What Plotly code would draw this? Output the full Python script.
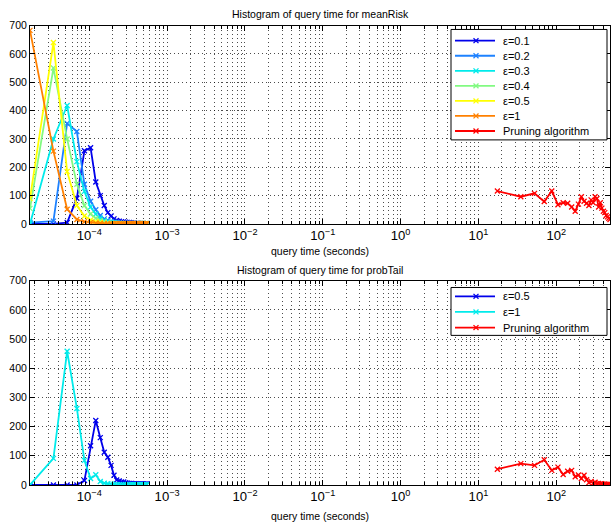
import plotly.graph_objects as go

# ---- data ----
bins_eps = [1.73e-5, 3.46e-5, 5.19e-5, 6.92e-5, 8.65e-5, 1.038e-4, 1.211e-4, 1.384e-4,
            1.557e-4, 1.73e-4, 1.903e-4, 2.076e-4, 2.249e-4, 2.422e-4, 2.595e-4, 2.768e-4,
            2.941e-4, 3.114e-4, 3.287e-4, 3.46e-4, 3.633e-4, 3.806e-4, 3.979e-4, 4.152e-4,
            4.325e-4, 4.498e-4, 4.671e-4, 4.844e-4, 5.017e-4, 5.19e-4, 5.363e-4, 5.536e-4]
bins_prune = [17.5, 35, 52.5, 70, 87.5, 105, 122.5, 140, 157.5, 175, 192.5, 210, 227.5, 245,
              262.5, 280, 297.5, 315, 332.5, 350, 367.5, 385, 402.5, 420, 437.5, 455, 472.5, 490]

mean_eps01 = [0, 0, 5, 91, 258, 269, 148, 100, 65, 40, 28, 18, 12, 10, 8, 7,
              6, 5, 5, 4, 3, 3, 2, 2, 2, 1, 1, 1, 1, 1, 1, 1]
mean_eps02 = [5, 10, 355, 326, 140, 80, 50, 30, 18, 12, 8, 6, 5, 4, 3, 3,
              2, 2, 2, 2, 1, 1, 1, 1, 1, 1, 1, 1, 1, 1, 1, 1]
mean_eps03 = [0, 300, 418, 220, 115, 60, 35, 20, 12, 8, 6, 4, 2, 2, 2, 1,
              1, 1, 1, 1, 1, 1, 1, 1, 1, 1, 1, 1, 1, 1, 1, 1]
mean_eps04 = [55, 550, 300, 140, 65, 35, 20, 12, 8, 5, 2, 2, 1, 1, 1, 1,
              1, 1, 1, 1, 1, 1, 1, 1, 1, 1, 1, 1, 1, 1, 1, 1]
mean_eps05 = [90, 640, 185, 65, 28, 14, 8, 5, 3, 1, 1, 1, 1, 1, 1, 1,
              1, 1, 1, 1, 1, 1, 1, 1, 1, 1, 1, 1, 1, 1, 1, 1]
mean_eps1 = [683, 257, 52, 16, 8, 5, 3, 2, 1, 1, 1, 1, 1, 1, 1, 1,
             1, 1, 1, 1, 1, 1, 1, 1, 1, 1, 1, 1, 1, 1, 1, 1]
mean_prune = [116, 96, 108, 79, 116, 68, 75, 73, 60, 45, 70, 96, 80, 73,
              65, 85, 75, 96, 90, 60, 75, 56, 45, 40, 30, 25, 20, 16]

tail_eps05 = [0, 0, 0, 0, 15, 134, 221, 162, 112, 95, 67, 33, 17, 14, 10, 10,
              8, 6, 5, 5, 4, 4, 4, 3, 3, 3, 3, 3, 3, 3, 3, 3]
tail_eps1 = [0, 91, 458, 262, 84, 22, 35, 12, 6, 4, 3, 2, 1, 1, 1, 1,
             1, 1, 1, 1, 1, 1, 1, 1, 1, 1, 1, 1, 1, 1, 1, 1]
tail_prune = [54, 73, 67, 86, 50, 61, 36, 47, 50, 28, 34, 22, 33, 18,
              8, 12, 6, 9, 4, 5, 3, 4, 2, 3, 2, 2, 1, 2]

titles = ["Histogram of query time for meanRisk", "Histogram of query time for probTail"]
xlabel = "query time (seconds)"

# ---- styles ----
C_01 = "rgb(0,0,235)"
C_02 = "rgb(30,130,255)"
C_03 = "rgb(0,235,235)"
C_04 = "rgb(130,250,130)"
C_05 = "rgb(255,255,0)"
C_1 = "rgb(255,128,0)"
C_R = "rgb(255,0,0)"

FONT = "Liberation Sans, Arial, Helvetica, sans-serif"
W, H = 613, 531
def px(v): return v / W
def py(v): return 1 - v / H

fig = go.Figure()

def add(x, y, name, color, xa, ya):
    fig.add_trace(go.Scatter(
        x=x, y=y, name=name, mode="lines+markers", showlegend=False,
        line=dict(color=color, width=1.8),
        marker=dict(symbol="x-thin", size=5, line=dict(color=color, width=1.3)),
        xaxis=xa, yaxis=ya))

top_series = [(bins_eps, mean_eps01, "ε=0.1", C_01), (bins_eps, mean_eps02, "ε=0.2", C_02),
              (bins_eps, mean_eps03, "ε=0.3", C_03), (bins_eps, mean_eps04, "ε=0.4", C_04),
              (bins_eps, mean_eps05, "ε=0.5", C_05), (bins_eps, mean_eps1, "ε=1", C_1),
              (bins_prune, mean_prune, "Pruning algorithm", C_R)]
bot_series = [(bins_eps, tail_eps05, "ε=0.5", C_01), (bins_eps, tail_eps1, "ε=1", C_03),
              (bins_prune, tail_prune, "Pruning algorithm", C_R)]

for x, y, n, c in top_series:
    add(x, y, n, c, "x", "y")
for x, y, n, c in bot_series:
    add(x, y, n, c, "x2", "y2")

# ---- manual MATLAB-style legends (tighter row spacing than plotly legend) ----
shapes = []
annotations = []

def legend_box(series, box, first_y, step):
    x0, y0, x1, y1 = box
    shapes.append(dict(type="rect", xref="paper", yref="paper",
                       x0=px(x0), x1=px(x1), y0=py(y1), y1=py(y0),
                       line=dict(color="black", width=1), fillcolor="white", layer="above"))
    for i, (_, _, name, color) in enumerate(series):
        yc = first_y + i * step
        shapes.append(dict(type="line", xref="paper", yref="paper",
                           x0=px(x0 + 4), x1=px(x0 + 44), y0=py(yc), y1=py(yc),
                           line=dict(color=color, width=1.8), layer="above"))
        mx = x0 + 25
        for d in (1, -1):
            shapes.append(dict(type="line", xref="paper", yref="paper",
                               x0=px(mx - 2.5), x1=px(mx + 2.5),
                               y0=py(yc - 2.5 * d), y1=py(yc + 2.5 * d),
                               line=dict(color=color, width=1.3), layer="above"))
        annotations.append(dict(text=name, x=px(x0 + 50), y=py(yc), xref="paper", yref="paper",
                                xanchor="left", yanchor="middle", showarrow=False,
                                font=dict(size=11, family=FONT, color="black")))

legend_box(top_series, (451, 24, 607, 137), 35.5, 15.4)
legend_box(bot_series, (451, 288, 607, 337), 297, 16)

for txt, yy in ((titles[0], 8), (xlabel, 251), (titles[1], 270), (xlabel, 522)):
    annotations.append(dict(text=txt, x=px(320), y=py(yy), xref="paper", yref="paper",
                            xanchor="center", yanchor="middle", showarrow=False,
                            font=dict(size=10.5, family=FONT, color="black")))

GRID = "rgba(0,0,0,0.7)"
xaxis_common = dict(
    type="log", range=[-4.762, 2.69], dtick=1, exponentformat="power",
    labelalias={"1": "10<sup>0</sup>", "10": "10<sup>1</sup>"},
    showline=True, linecolor="black", linewidth=1, mirror="ticks",
    ticks="inside", ticklen=5, tickcolor="black",
    showgrid=True, gridcolor=GRID, griddash="1px,3px", gridwidth=1,
    minor=dict(ticks="inside", ticklen=3, tickcolor="black", showgrid=True,
               gridcolor=GRID, griddash="1px,3px", gridwidth=1),
    zeroline=False, tickfont=dict(size=10.5, color="black", family=FONT),
    domain=[px(30), px(610)], fixedrange=True)
yaxis_common = dict(
    range=[0, 700], dtick=100, showline=True, linecolor="black", linewidth=1,
    mirror="ticks", ticks="inside", ticklen=5, tickcolor="black",
    showgrid=True, gridcolor=GRID, griddash="1px,3px", gridwidth=1,
    zeroline=False, tickfont=dict(size=10.5, color="black", family=FONT), fixedrange=True)

fig.update_layout(
    width=W, height=H, margin=dict(l=0, r=0, t=0, b=0),
    paper_bgcolor="white", plot_bgcolor="white",
    font=dict(family=FONT, size=10, color="black"),
    showlegend=False, hovermode=False,
    xaxis=dict(**xaxis_common, anchor="y"),
    yaxis=dict(**yaxis_common, domain=[py(223), py(20)], anchor="x"),
    xaxis2=dict(**xaxis_common, anchor="y2"),
    yaxis2=dict(**yaxis_common, domain=[py(490), py(281)], anchor="x2"),
    shapes=shapes,
    annotations=annotations,
)

fig.write_html("out.html",
               config={"displayModeBar": False, "staticPlot": True},
               post_script="document.body.style.margin='0';document.body.style.padding='0';"
                           "document.documentElement.style.overflow='hidden';")
